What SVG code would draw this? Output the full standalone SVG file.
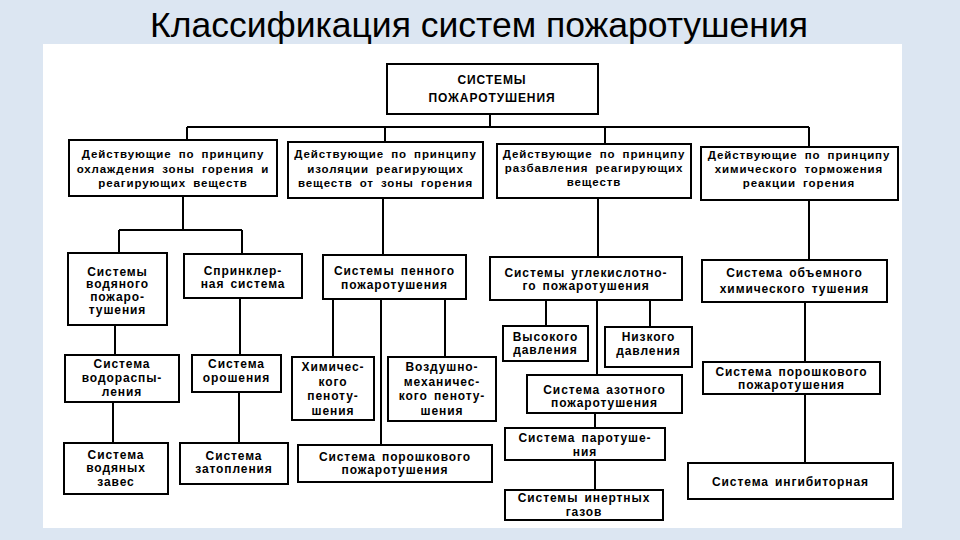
<svg xmlns="http://www.w3.org/2000/svg" width="960" height="540" viewBox="0 0 960 540">
<style>
.bg{fill:#dce6f2}
.panel{fill:#ffffff}
.box{fill:#ffffff;stroke:#000;stroke-width:2}
.ln{stroke:#000;stroke-width:2;fill:none}
.t{font-family:"Liberation Sans",Arial,sans-serif;font-weight:bold;font-size:12px;letter-spacing:0.9px;word-spacing:2px;text-anchor:middle;fill:#000}
.s{font-size:11.5px;letter-spacing:0.9px;word-spacing:3px}
.title{font-family:"Liberation Sans",Arial,sans-serif;font-size:35px;fill:#000;text-anchor:middle}
</style>
<rect class="bg" x="0" y="0" width="960" height="540"/>
<rect class="panel" x="43" y="44" width="859" height="484"/>
<text class="title" x="479" y="37" textLength="658" lengthAdjust="spacingAndGlyphs">Классификация систем пожаротушения</text>

<g id="connectors">
<path class="ln" d="M490 114V127M187 127H809M187 127V140M385 127V142M605 127V144M809 127V147"/>
<path class="ln" d="M183 196V230M119 230H242M119 230V253M242 230V254"/>
<path class="ln" d="M115 325V355M113 402V443M240 298V355M239 392V443"/>
<path class="ln" d="M383 198V255M333 299V357M381 299V445M445 299V357"/>
<path class="ln" d="M598 198V257M546 300V326M650 300V327M597 300V375M595 413V428M595 460V490"/>
<path class="ln" d="M809 200V260M805 302V362M805 394V463"/>
</g>

<g id="root"><rect class="box" x="387" y="64" width="211" height="50"/>
<text class="t" x="492" y="84">СИСТЕМЫ</text><text class="t" x="492" y="102">ПОЖАРОТУШЕНИЯ</text></g>

<g id="cooling"><rect class="box" x="69" y="140" width="208" height="56"/>
<text class="t s" x="173" y="158">Действующие по принципу</text><text class="t s" x="173" y="173">охлаждения зоны горения и</text><text class="t s" x="173" y="187">реагирующих веществ</text></g>

<g id="isolation"><rect class="box" x="288" y="142" width="195" height="56"/>
<text class="t s" x="385.5" y="158">Действующие по принципу</text><text class="t s" x="385.5" y="173">изоляции реагирующих</text><text class="t s" x="385.5" y="187">веществ от зоны горения</text></g>

<g id="dilution"><rect class="box" x="497" y="144" width="194" height="54"/>
<text class="t s" x="594" y="158">Действующие по принципу</text><text class="t s" x="594" y="172">разбавления реагирующих</text><text class="t s" x="594" y="186">веществ</text></g>

<g id="inhibition"><rect class="box" x="701" y="147" width="197" height="53"/>
<text class="t s" x="799" y="159">Действующие по принципу</text><text class="t s" x="799" y="173">химического торможения</text><text class="t s" x="799" y="187">реакции горения</text></g>

<g id="water"><rect class="box" x="68" y="253" width="99" height="72"/>
<text class="t" x="117.5" y="275.5">Системы</text><text class="t" x="117.5" y="288">водяного</text><text class="t" x="117.5" y="300.5">пожаро-</text><text class="t" x="117.5" y="313.5">тушения</text></g>

<g id="sprinkler"><rect class="box" x="184" y="254" width="118" height="44"/>
<text class="t" x="243" y="275">Спринклер-</text><text class="t" x="243" y="288">ная система</text></g>

<g id="foam"><rect class="box" x="323" y="255" width="143" height="44"/>
<text class="t" x="394.5" y="275">Системы пенного</text><text class="t" x="394.5" y="289">пожаротушения</text></g>

<g id="spray"><rect class="box" x="65" y="355" width="114" height="47"/>
<text class="t" x="122" y="368">Система</text><text class="t" x="122" y="382">водораспы-</text><text class="t" x="122" y="396">ления</text></g>

<g id="curtains"><rect class="box" x="64" y="443" width="104" height="51"/>
<text class="t" x="116" y="459">Система</text><text class="t" x="116" y="472">водяных</text><text class="t" x="116" y="486">завес</text></g>

<g id="irrigation"><rect class="box" x="192" y="355" width="89" height="37"/>
<text class="t" x="236.5" y="368">Система</text><text class="t" x="236.5" y="382">орошения</text></g>

<g id="flooding"><rect class="box" x="180" y="443" width="108" height="41"/>
<text class="t" x="234" y="460">Система</text><text class="t" x="234" y="473">затопления</text></g>

<g id="chemfoam"><rect class="box" x="292" y="357" width="82" height="63"/>
<text class="t" x="333" y="371">Химичес-</text><text class="t" x="333" y="386">кого</text><text class="t" x="333" y="400">пеноту-</text><text class="t" x="333" y="415">шения</text></g>

<g id="airfoam"><rect class="box" x="388" y="357" width="108" height="64"/>
<text class="t" x="442" y="371">Воздушно-</text><text class="t" x="442" y="386">механичес-</text><text class="t" x="442" y="400">кого пеноту-</text><text class="t" x="442" y="415">шения</text></g>

<g id="powder1"><rect class="box" x="298" y="445" width="194" height="37"/>
<text class="t" x="395" y="461">Система порошкового</text><text class="t" x="395" y="474">пожаротушения</text></g>

<g id="co2"><rect class="box" x="490" y="257" width="192" height="43"/>
<text class="t" x="586" y="277">Системы углекислотно-</text><text class="t" x="586" y="290">го пожаротушения</text></g>

<g id="highp"><rect class="box" x="503" y="326" width="85" height="35"/>
<text class="t" x="545.5" y="341">Высокого</text><text class="t" x="545.5" y="354">давления</text></g>

<g id="lowp"><rect class="box" x="605" y="327" width="87" height="40"/>
<text class="t" x="648.5" y="341">Низкого</text><text class="t" x="648.5" y="355">давления</text></g>

<g id="nitrogen"><rect class="box" x="527" y="375" width="155" height="38"/>
<text class="t" x="604.5" y="394">Система азотного</text><text class="t" x="604.5" y="407">пожаротушения</text></g>

<g id="steam"><rect class="box" x="505" y="428" width="160" height="32"/>
<text class="t" x="585" y="442">Система паротуше-</text><text class="t" x="585" y="456">ния</text></g>

<g id="inert"><rect class="box" x="505" y="490" width="158" height="30"/>
<text class="t" x="584" y="502">Системы инертных</text><text class="t" x="584" y="516">газов</text></g>

<g id="volume"><rect class="box" x="702" y="260" width="185" height="42"/>
<text class="t" x="794.5" y="277">Система объемного</text><text class="t" x="794.5" y="293">химического тушения</text></g>

<g id="powder2"><rect class="box" x="703" y="362" width="177" height="32"/>
<text class="t" x="791.5" y="376">Система порошкового</text><text class="t" x="791.5" y="389">пожаротушения</text></g>

<g id="inhibitor"><rect class="box" x="688" y="463" width="205" height="36"/>
<text class="t" x="790.5" y="486">Система ингибиторная</text></g>
</svg>
